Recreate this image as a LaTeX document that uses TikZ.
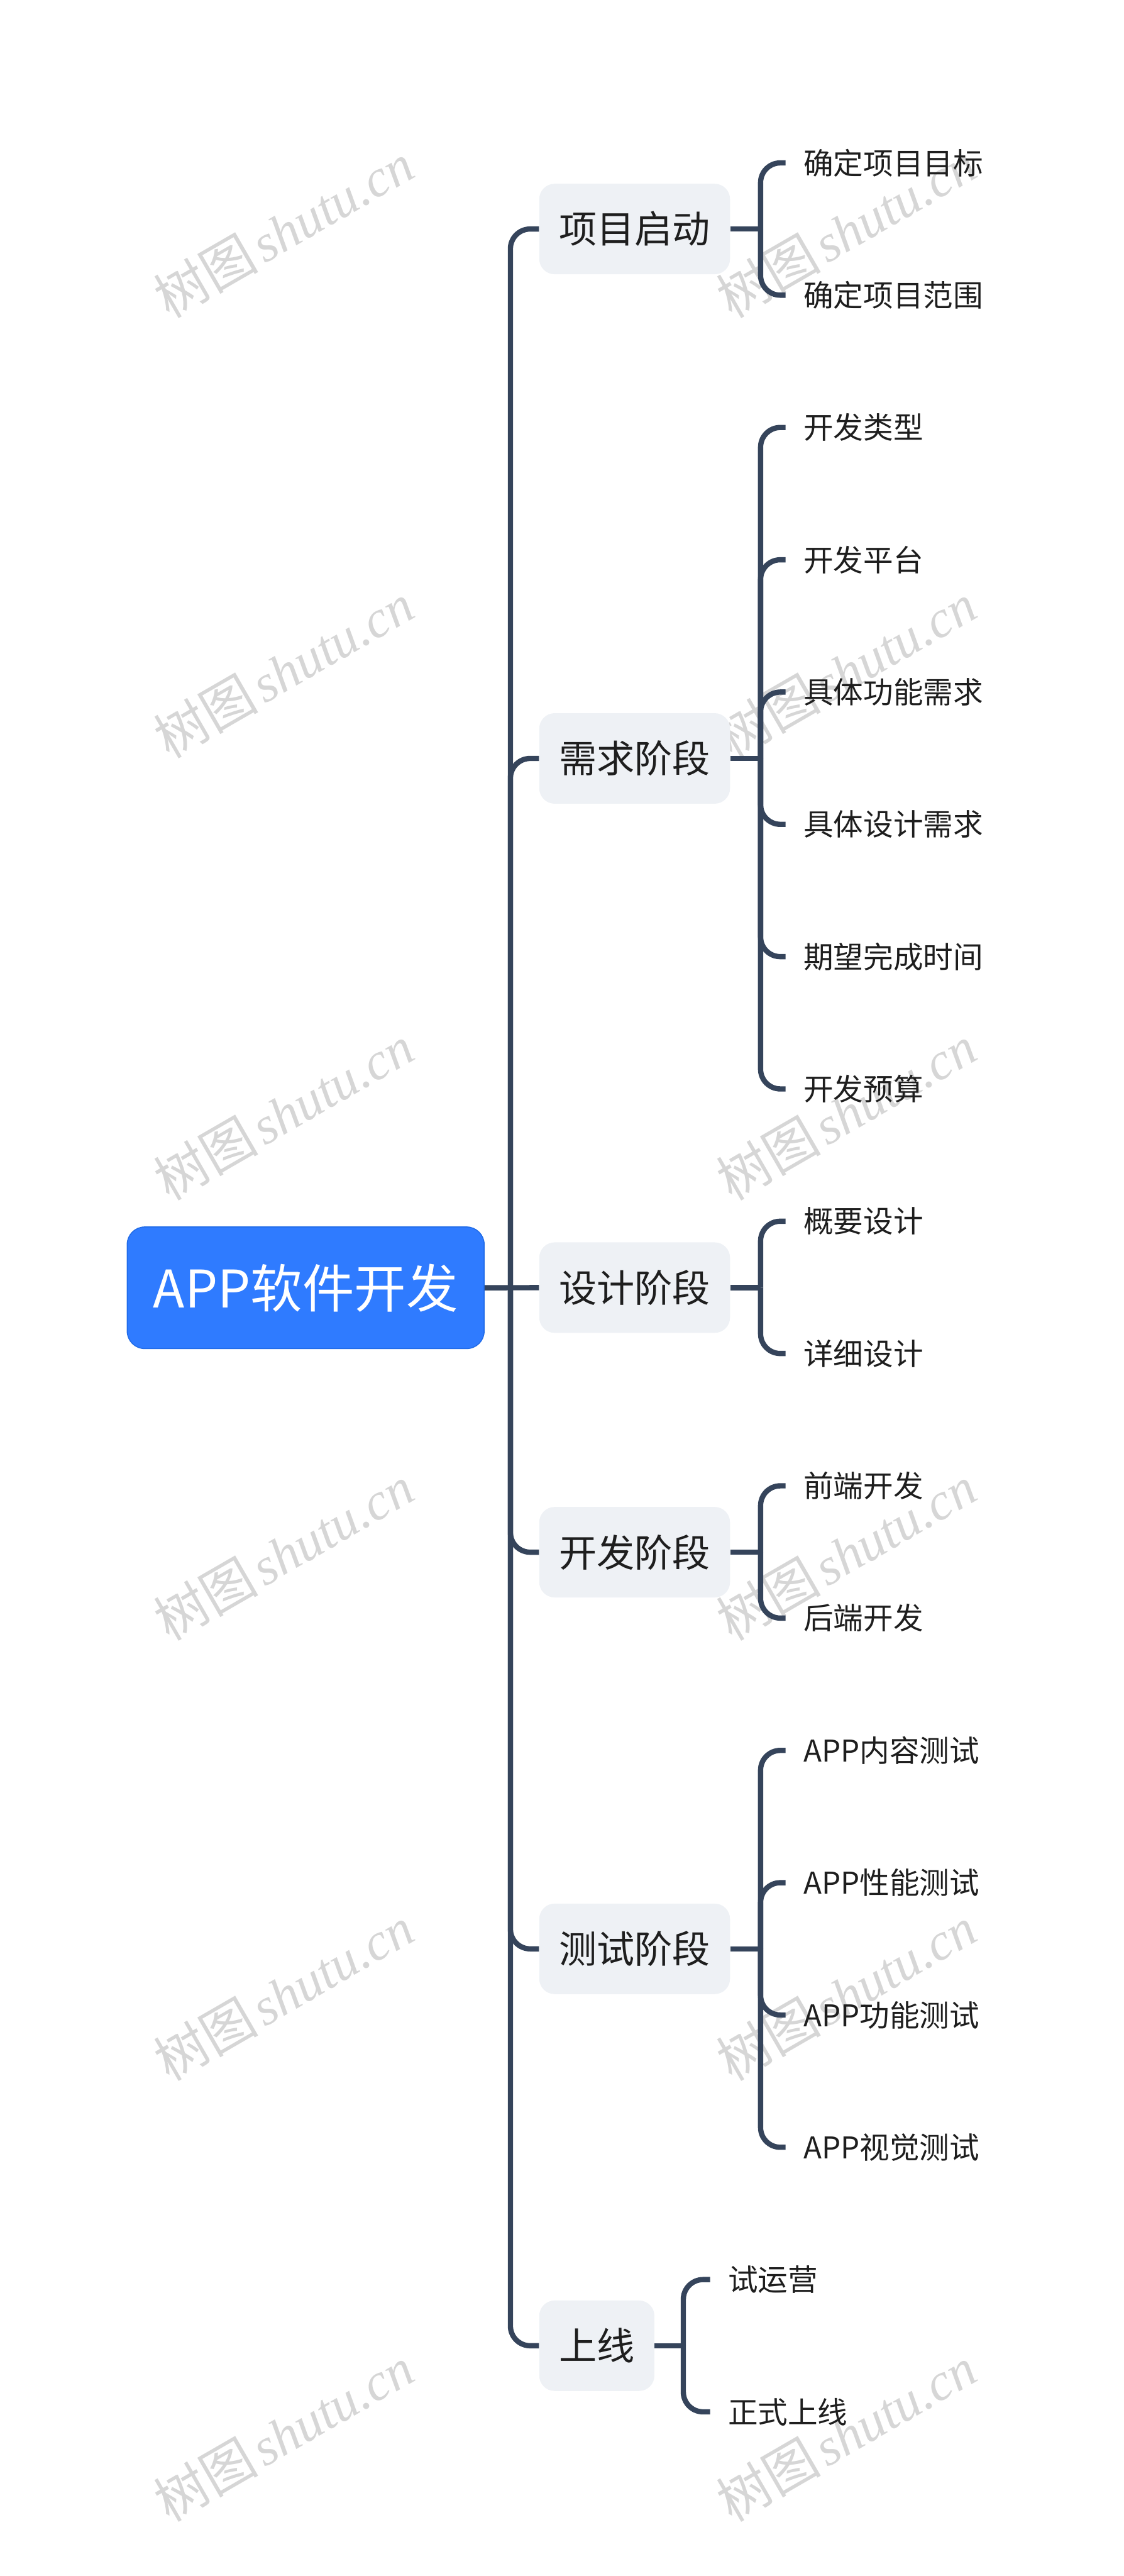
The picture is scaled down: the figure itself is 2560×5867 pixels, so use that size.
\documentclass[tikz,border=0pt]{standalone}
\usepackage{fontspec}
\newfontfamily\cjk{Noto Sans CJK SC}
\newfontfamily\wmserif{Liberation Serif}
\definecolor{linec}{HTML}{35445B}
\definecolor{rootc}{HTML}{2F7BFF}
\definecolor{rootb}{HTML}{1F6AE6}
\definecolor{lonefill}{HTML}{EEF1F5}
\definecolor{txt}{HTML}{1E1E1E}
\definecolor{wmc}{HTML}{D6D6D6}
\begin{document}
\begin{tikzpicture}[x=0.01cm,y=-0.01cm,
  conn/.style={draw=linec,line width=0.12cm,rounded corners=0.45cm},
  rootnode/.style={rectangle,rounded corners=0.4cm,fill=rootc,draw=rootb,line width=0.6pt,
    text=white,font=\cjk\fontsize{33.6pt}{40pt}\selectfont,minimum width=8.13cm,minimum height=2.77cm},
  lone/.style={rectangle,rounded corners=0.35cm,fill=lonefill,text=txt,
    font=\cjk\fontsize{24.5pt}{30pt}\selectfont,inner xsep=0.45cm,minimum height=2.06cm,anchor=west},
  ltwo/.style={text=txt,font=\cjk\fontsize{19.4pt}{24pt}\selectfont,inner xsep=0.4cm,inner ysep=0pt,anchor=west},
  wmark/.style={text=wmc,rotate=30,inner sep=0pt}
]
\useasboundingbox (0,0) rectangle (2560,5867);

% watermarks
\foreach \wy [count=\k] in {524,1527,2534,3537,4540,5543}{
  \node[wmark] (wl\k) at (646,\wy) {{\cjk\fontsize{34pt}{40pt}\selectfont 树图} {\wmserif\itshape\fontsize{34pt}{40pt}\selectfont shutu.cn}};
  \node[wmark] (wr\k) at (1928,\wy) {{\cjk\fontsize{34pt}{40pt}\selectfont 树图} {\wmserif\itshape\fontsize{34pt}{40pt}\selectfont shutu.cn}};
}

\coordinate (T) at (1163,0);
\coordinate (B) at (1733,0);
\coordinate (Bs) at (1557,0);

% root
\node[rootnode] (root) at (696.5,2933) {APP软件开发};

% level one
\node[lone] (s1) at (1228,521.6) {项目启动};
\node[lone] (s2) at (1228,1727.4) {需求阶段};
\node[lone] (s3) at (1228,2932.6) {设计阶段};
\node[lone] (s4) at (1228,3535.2) {开发阶段};
\node[lone] (s5) at (1228,4438.6) {测试阶段};
\node[lone] (s6) at (1228,5342.5) {上线};

% level two
\node[ltwo] (c0) at (1790,371) {确定项目目标};
\node[ltwo] (c1) at (1790,672.3) {确定项目范围};
\node[ltwo] (c2) at (1790,973.6) {开发类型};
\node[ltwo] (c3) at (1790,1274.9) {开发平台};
\node[ltwo] (c4) at (1790,1576.2) {具体功能需求};
\node[ltwo] (c5) at (1790,1877.5) {具体设计需求};
\node[ltwo] (c6) at (1790,2178.8) {期望完成时间};
\node[ltwo] (c7) at (1790,2480.1) {开发预算};
\node[ltwo] (c8) at (1790,2781.4) {概要设计};
\node[ltwo] (c9) at (1790,3082.7) {详细设计};
\node[ltwo] (c10) at (1790,3384) {前端开发};
\node[ltwo] (c11) at (1790,3685.3) {后端开发};
\node[ltwo] (c12) at (1790,3986.6) {APP内容测试};
\node[ltwo] (c13) at (1790,4287.9) {APP性能测试};
\node[ltwo] (c14) at (1790,4589.2) {APP功能测试};
\node[ltwo] (c15) at (1790,4890.5) {APP视觉测试};
\node[ltwo] (c16) at (1618,5191.8) {试运营};
\node[ltwo] (c17) at (1618,5493.1) {正式上线};

% trunk
\draw[conn] (root.east) -- (s3.west);
\foreach \s in {s1,s2,s4,s5,s6}{
  \draw[conn] (root.east -| T) |- (\s.west);
}

% brackets
\foreach \s/\list in {s1/{c0,c1},s2/{c2,c3,c4,c5,c6,c7},s3/{c8,c9},s4/{c10,c11},s5/{c12,c13,c14,c15}}{
  \draw[conn] (\s.east) -- (\s.east -| B);
  \foreach \c in \list {
    \draw[conn] (\s.east -| B) |- (\c.west);
  }
}
\draw[conn] (s6.east) -- (s6.east -| Bs);
\foreach \c in {c16,c17}{
  \draw[conn] (s6.east -| Bs) |- (\c.west);
}
\end{tikzpicture}
\end{document}
